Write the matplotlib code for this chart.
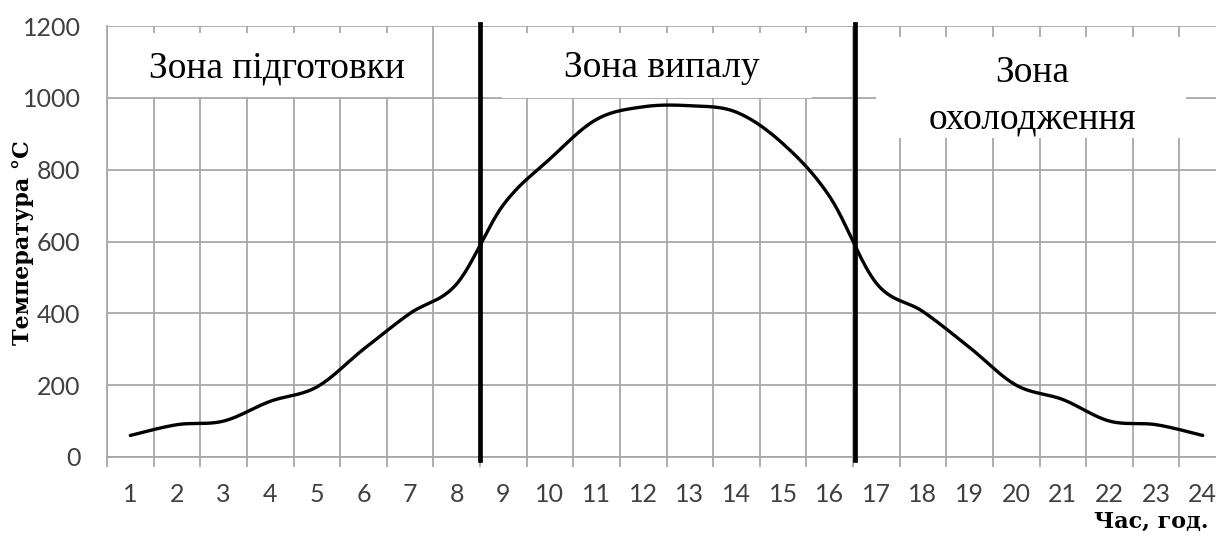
import matplotlib.pyplot as plt
from matplotlib.patches import Rectangle
import numpy as np

# temperature of the firing cycle, one value per hour
hours = list(range(1, 25))
temps = [60, 90, 100, 155, 195, 300, 400, 482, 702, 830, 940, 975,
         978, 960, 872, 725, 484, 405, 305, 200, 160, 100, 90, 60]

zone_edges = [8.5, 16.55]
zone_names = ['Зона підготовки', 'Зона випалу', 'Зона\nохолодження']
y_ticks = [0, 200, 400, 600, 800, 1000, 1200]


def smooth(x, y, n=40):
    # catmull-rom through the points, like a smoothed office line chart
    x = np.asarray(x, float)
    y = np.asarray(y, float)
    px = np.concatenate([[x[0]], x, [x[-1]]])
    py = np.concatenate([[y[0]], y, [y[-1]]])
    xs, ys = [], []
    t = np.linspace(0, 1, n, endpoint=False)
    for i in range(1, len(px) - 2):
        for p, out in ((px, xs), (py, ys)):
            p0, p1, p2, p3 = p[i - 1], p[i], p[i + 1], p[i + 2]
            m1 = (p2 - p0) / 2
            m2 = (p3 - p1) / 2
            h00 = 2*t**3 - 3*t**2 + 1
            h10 = t**3 - 2*t**2 + t
            h01 = -2*t**3 + 3*t**2
            h11 = t**3 - t**2
            out.extend(h00*p1 + h10*m1 + h01*p2 + h11*m2)
    xs.append(x[-1])
    ys.append(y[-1])
    return np.array(xs), np.array(ys)


fig = plt.figure(figsize=(12.16, 5.35), dpi=100)
ax = fig.add_axes([107/1216, 1 - 457/535, 1119/1216, 431/535])

grid_c = '#a8a8a8'
ax.set_xlim(0.5, 24.5)
ax.set_ylim(0, 1200)

ax.set_xticks(hours)
ax.set_xticklabels([str(h) for h in hours])
ax.set_xticks(np.arange(0.5, 25, 1), minor=True)
ax.set_yticks(y_ticks)
ax.grid(True, which='minor', axis='x', color=grid_c, lw=1.3, zorder=0)
ax.grid(True, which='major', axis='y', color=grid_c, lw=1.3, zorder=0)
ax.tick_params(axis='x', which='major', length=0, pad=19)
ax.tick_params(axis='x', which='minor', length=7, width=1.3, color=grid_c)
ax.tick_params(axis='y', length=0, pad=19)
ax.set_axisbelow(True)
for lab in ax.get_xticklabels() + ax.get_yticklabels():
    lab.set_fontfamily('Lato')
    lab.set_fontsize(18)
    lab.set_color('#404040')
for s in ['top', 'right']:
    ax.spines[s].set_visible(False)
for s in ['left', 'bottom']:
    ax.spines[s].set_color(grid_c)
    ax.spines[s].set_linewidth(1.3)

# white label boxes over the grid
boxes = [(0.52, 1003, 6.96, 178), (8.97, 1000, 6.65, 181), (16.99, 888, 6.65, 282)]
for bx, by, bw, bh in boxes:
    ax.add_patch(Rectangle((bx, by), bw, bh, facecolor='white', edgecolor='none', zorder=2))

ax.text(4.14, 1083, zone_names[0], ha='center', va='center', fontsize=27,
        family='Liberation Serif', zorder=3)
ax.text(12.4, 1083, zone_names[1], ha='center', va='center', fontsize=27,
        family='Liberation Serif', zorder=3)
ax.text(20.35, 1006, zone_names[2], ha='center', va='center', fontsize=27,
        family='Liberation Serif', linespacing=1.45, zorder=3)

sx, sy = smooth(hours, temps)
ax.plot(sx, sy, color='black', lw=2.4, zorder=4, solid_capstyle='round')

for xe in zone_edges:
    ax.plot([xe, xe], [-8, 1205], color='black', lw=3.4, zorder=5, clip_on=False)

fig.text(23 / 1216, 1 - 243 / 535, 'Температура °С', rotation=90, ha='center',
         va='center', fontsize=16, fontweight='bold', family='DejaVu Serif')
fig.text(1209 / 1216, 1 - 522 / 535, 'Час, год.', ha='right', va='center',
         fontsize=16, fontweight='bold', family='DejaVu Serif')

fig.savefig('out.png', dpi=100)
